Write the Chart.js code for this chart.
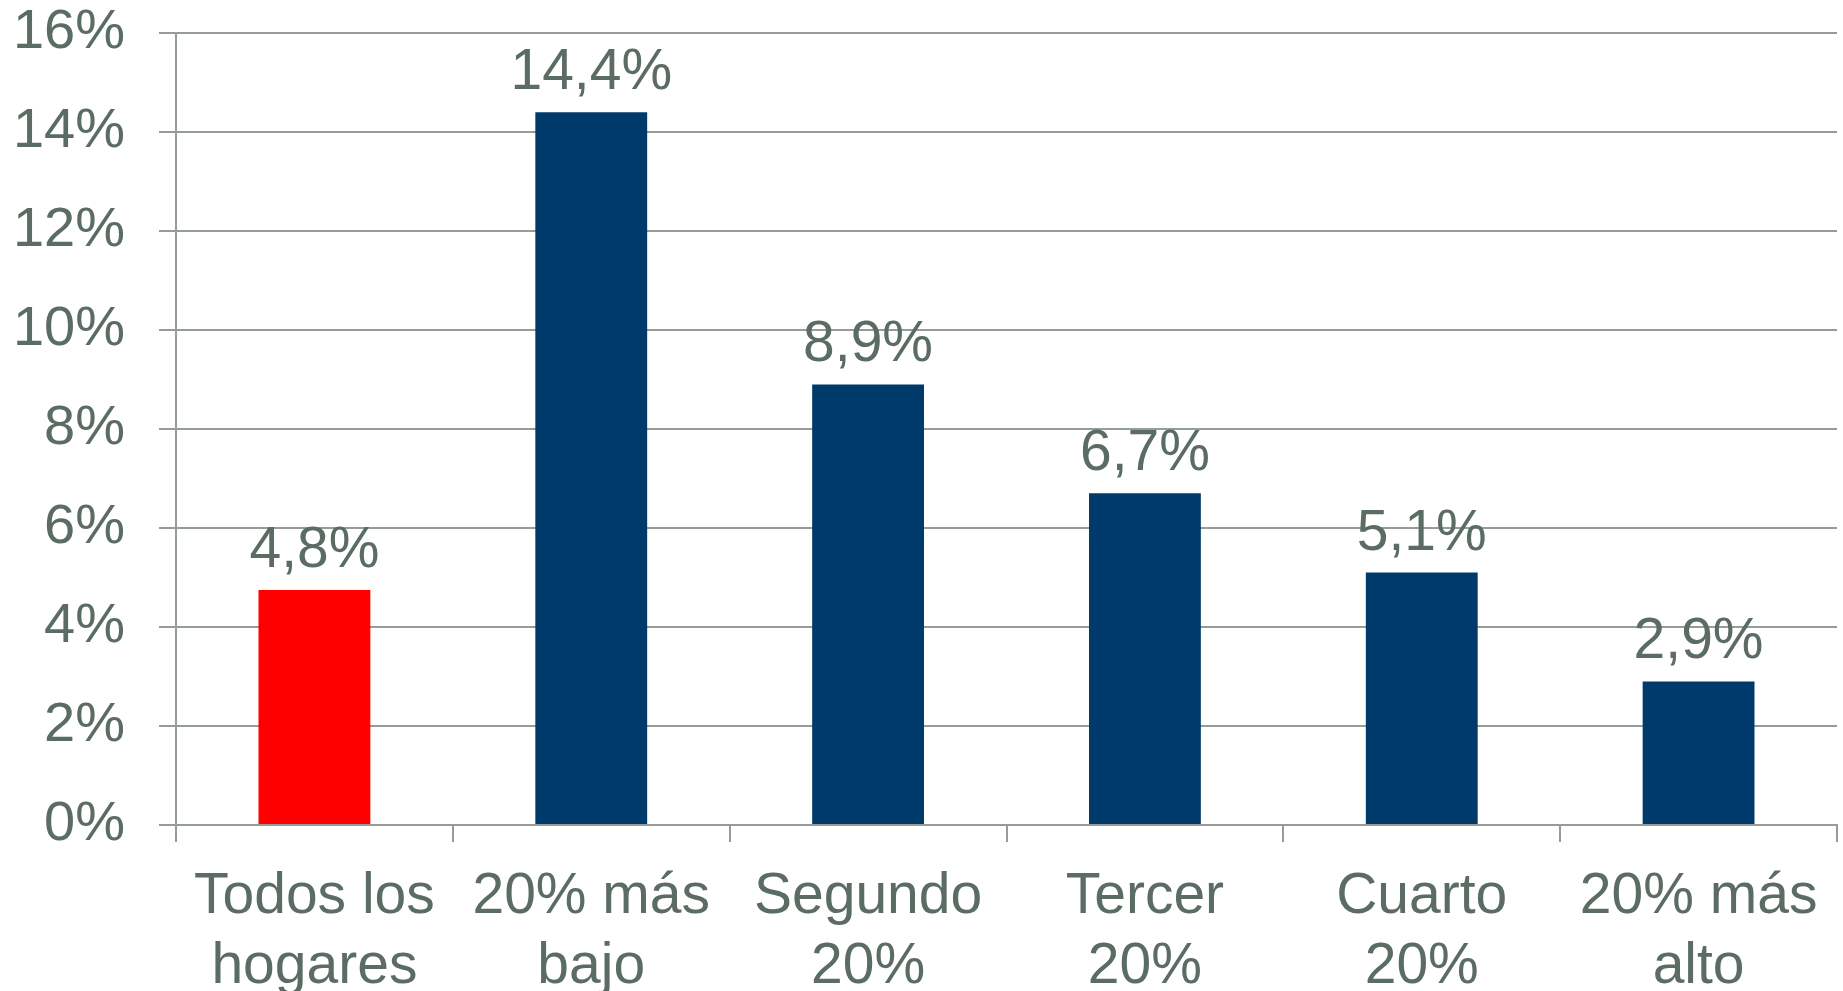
<!DOCTYPE html>
<html>
<head>
<meta charset="utf-8">
<script src="https://cdn.jsdelivr.net/npm/chart.js@4/dist/chart.umd.min.js"></script>
<style>
html,body{margin:0;padding:0;background:#fff;}
#wrap{width:1843px;height:991px;position:relative;}
</style>
</head>
<body>
<div id="wrap"><canvas id="c" width="1843" height="991"></canvas></div>
<script>
const categories = [["Todos los","hogares"],["20% más","bajo"],["Segundo","20%"],["Tercer","20%"],["Cuarto","20%"],["20% más","alto"]];
const values = [4.75, 14.4, 8.9, 6.7, 5.1, 2.9];
const valueLabels = ["4,8%","14,4%","8,9%","6,7%","5,1%","2,9%"];
const barColors = ["#FF0000","#003A6B","#003A6B","#003A6B","#003A6B","#003A6B"];
const yTickValues = [0,2,4,6,8,10,12,14,16];

const TEXT = "#5B6C63";
const GRID = "#959D99";
const FONT = "'Liberation Sans', Arial, sans-serif";

const labelPlugin = {
  id: 'valueLabels',
  afterDatasetsDraw(chart) {
    const ctx = chart.ctx;
    const meta = chart.getDatasetMeta(0);
    ctx.save();
    ctx.font = "57px " + FONT;
    ctx.fillStyle = TEXT;
    ctx.textAlign = 'center';
    ctx.textBaseline = 'alphabetic';
    meta.data.forEach((bar, i) => {
      ctx.fillText(valueLabels[i], bar.x, bar.y - 23);
    });
    ctx.restore();
  }
};

new Chart(document.getElementById('c'), {
  type: 'bar',
  data: {
    labels: categories,
    datasets: [{
      data: values,
      backgroundColor: barColors,
      borderWidth: 0,
      barPercentage: 0.404,
      categoryPercentage: 1.0
    }]
  },
  options: {
    responsive: false,
    animation: false,
    devicePixelRatio: 1,
    layout: { padding: { top: 33, right: 6, left: 0, bottom: 0 } },
    plugins: { legend: { display: false }, tooltip: { enabled: false } },
    scales: {
      x: {
        offset: true,
        grid: { display: true, drawOnChartArea: false, drawTicks: true, tickLength: 17, color: GRID, lineWidth: 2, offset: true },
        border: { display: true, color: GRID, width: 2 },
        ticks: {
          color: TEXT,
          font: { family: FONT, size: 57, lineHeight: 1.22 },
          padding: 21,
          maxRotation: 0,
          autoSkip: false
        },
        afterFit(scale) { scale.height = 166; scale.paddingLeft = 0; scale.paddingRight = 0; }
      },
      y: {
        min: 0,
        max: 16,
        afterBuildTicks(scale) { scale.ticks = yTickValues.map(v => ({ value: v })); },
        grid: { color: GRID, lineWidth: 2, drawTicks: true, tickLength: 17 },
        border: { display: true, color: GRID, width: 2 },
        ticks: {
          color: TEXT,
          font: { family: FONT, size: 56 },
          padding: 34,
          callback: (v) => v + '%'
        },
        afterFit(scale) { scale.width = 176; scale.paddingTop = 0; scale.paddingBottom = 0; }
      }
    }
  },
  plugins: [labelPlugin]
});
</script>
</body>
</html>
